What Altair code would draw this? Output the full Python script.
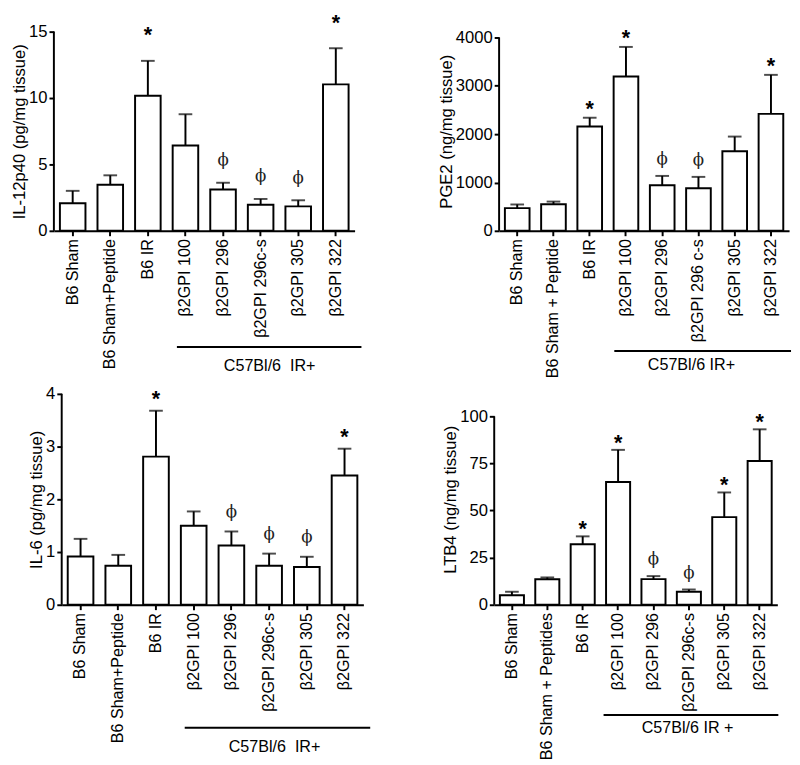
import altair as alt
import pandas as pd

# ---- categories ----
groups_tl = ["B6 Sham", "B6 Sham+Peptide", "B6 IR", "β2GPI 100", "β2GPI 296",
             "β2GPI 296c-s", "β2GPI 305", "β2GPI 322"]
groups_tr = ["B6 Sham", "B6 Sham + Peptide", "B6 IR", "β2GPI 100", "β2GPI 296",
             "β2GPI 296 c-s", "β2GPI 305", "β2GPI 322"]
groups_bl = ["B6 Sham", "B6 Sham+Peptide", "B6 IR", "β2GPI 100", "β2GPI 296",
             "β2GPI 296c-s", "β2GPI 305", "β2GPI 322"]
groups_br = ["B6 Sham", "B6 Sham + Peptides", "B6 IR", "β2GPI 100", "β2GPI 296",
             "β2GPI 296c-s", "β2GPI 305", "β2GPI 322"]

# ---- values (mean, SEM, significance) ----
il12_mean = [2.08, 3.47, 10.18, 6.43, 3.11, 1.96, 1.84, 11.03]
il12_sem = [0.93, 0.71, 2.62, 2.35, 0.51, 0.44, 0.46, 2.72]
il12_sig = ["", "", "*", "", "ϕ", "ϕ", "ϕ", "*"]

pge2_mean = [470, 551, 2158, 3193, 941, 880, 1647, 2420]
pge2_sem = [75, 54, 182, 612, 195, 236, 303, 807]
pge2_sig = ["", "", "*", "*", "ϕ", "ϕ", "", "*"]

il6_mean = [0.915, 0.74, 2.81, 1.50, 1.125, 0.74, 0.717, 2.45]
il6_sem = [0.335, 0.206, 0.87, 0.27, 0.265, 0.23, 0.193, 0.51]
il6_sig = ["", "", "*", "", "ϕ", "ϕ", "ϕ", "*"]

ltb4_mean = [5.0, 13.5, 32.1, 65.1, 13.6, 6.9, 46.5, 76.3]
ltb4_sem = [1.9, 1.0, 4.2, 17.1, 1.6, 1.2, 13.1, 16.8]
ltb4_sig = ["", "", "*", "*", "ϕ", "ϕ", "*", "*"]

FONT = "Liberation Sans"


def panel(cats, means, sems, sigs, ytitle, axis_max, ticks, width, height,
          dom_max, star_dy, phi_dy, group_text, line_x, line_y, text_xy,
          inset=0, spacer_x=None):
    df = pd.DataFrame({
        "group": cats,
        "mean": means,
        "top": [m + s for m, s in zip(means, sems)],
        "sig": sigs,
    })
    one = pd.DataFrame({"k": [0]})
    x = alt.X("group:N", sort=cats,
              scale=alt.Scale(paddingInner=0.32, paddingOuter=0.16,
                              range=[inset, width]),
              axis=alt.Axis(title=None, labelAngle=-90, labelPadding=3))
    yscale = alt.Scale(domain=[0, dom_max], nice=False, zero=True)
    base = alt.Chart(df)
    bars = base.mark_bar(fill="white", stroke="black", strokeWidth=2).encode(
        x=x,
        y=alt.Y("mean:Q", scale=yscale,
                axis=alt.Axis(values=ticks, title=ytitle, domain=False,
                              format="d", offset=-inset)),
    )
    err = base.mark_rule(stroke="black", strokeWidth=2).encode(
        x=x, y="mean:Q", y2="top:Q")
    cap = base.mark_tick(color="black", thickness=2, size=14).encode(
        x=x, y="top:Q")
    stars = base.transform_filter(alt.datum.sig == "*").mark_text(
        fontSize=22, fontWeight="bold", font=FONT, baseline="middle",
        dy=star_dy, color="black").encode(x=x, y="top:Q", text="sig:N")
    phis = base.transform_filter(alt.datum.sig == "ϕ").mark_text(
        fontSize=17, font="DejaVu Serif", baseline="middle",
        dy=phi_dy, color="#222222").encode(x=x, y="top:Q", text="sig:N")
    yline = alt.Chart(one).mark_rule(stroke="black", strokeWidth=2).encode(
        x=alt.value(inset), y=alt.datum(0), y2=alt.datum(axis_max))
    bracket = alt.Chart(one).mark_rule(stroke="black", strokeWidth=2).encode(
        x=alt.value(line_x[0]), x2=alt.value(line_x[1]), y=alt.value(line_y))
    glabel = alt.Chart(one).mark_text(
        text=group_text, fontSize=16.5, font=FONT, baseline="middle",
        color="black").encode(x=alt.value(text_xy[0]), y=alt.value(text_xy[1]))
    layers = [bars, err, cap, stars, phis, yline, bracket, glabel]
    if spacer_x is not None:
        spacer = alt.Chart(one).mark_text(text=".", opacity=0, fontSize=10).encode(
            x=alt.value(spacer_x), y=alt.value(100))
        layers.append(spacer)
    return alt.layer(*layers).properties(width=width, height=height)


tl = panel(groups_tl, il12_mean, il12_sem, il12_sig, "IL-12p40 (pg/mg tissue)",
           15, [0, 5, 10, 15], 308, 204, 15, -26, -23,
           "C57Bl/6\u00a0\u00a0IR+", (126, 315), 323, (221, 343), spacer_x=-50)
tr = panel(groups_tr, pge2_mean, pge2_sem, pge2_sig, "PGE2 (ng/mg tissue)",
           4000, [0, 1000, 2000, 3000, 4000], 297, 204, 4000 * 204 / 198,
           -9, -17, "C57Bl/6 IR+", (118, 299), 327, (197, 342))
bl = panel(groups_bl, il6_mean, il6_sem, il6_sig, "IL-6 (pg/mg tissue)",
           4, [0, 1, 2, 3, 4], 317, 216, 4, -12, -20,
           "C57Bl/6\u00a0\u00a0IR+", (134, 324), 342, (226, 362), inset=8)
br = panel(groups_br, ltb4_mean, ltb4_sem, ltb4_sig, "LTB4 (ng/mg tissue)",
           100, [0, 25, 50, 75, 100], 290, 216, 100 * 216 / 193,
           -7, -17, "C57Bl/6 IR +", (112, 291), 329, (198, 342))

row1 = alt.hconcat(tl, tr, spacing=77)
row2 = alt.hconcat(bl, br, spacing=72)

chart = alt.vconcat(row1, row2, spacing=7).properties(
    padding={"left": -5, "top": -5, "right": 0, "bottom": 0}
).configure_view(stroke=None).configure_axis(
    labelFont=FONT, titleFont=FONT, labelColor="black", titleColor="black",
    titleFontWeight="normal", titleFontSize=17, domainColor="black",
    domainWidth=2, tickColor="black", tickWidth=2, tickSize=5, grid=False,
    labelPadding=2, titlePadding=0,
).configure_axisX(labelFontSize=16.5).configure_axisY(labelFontSize=17)

chart.save("out.html", embed_options={"renderer": "svg", "actions": False})
